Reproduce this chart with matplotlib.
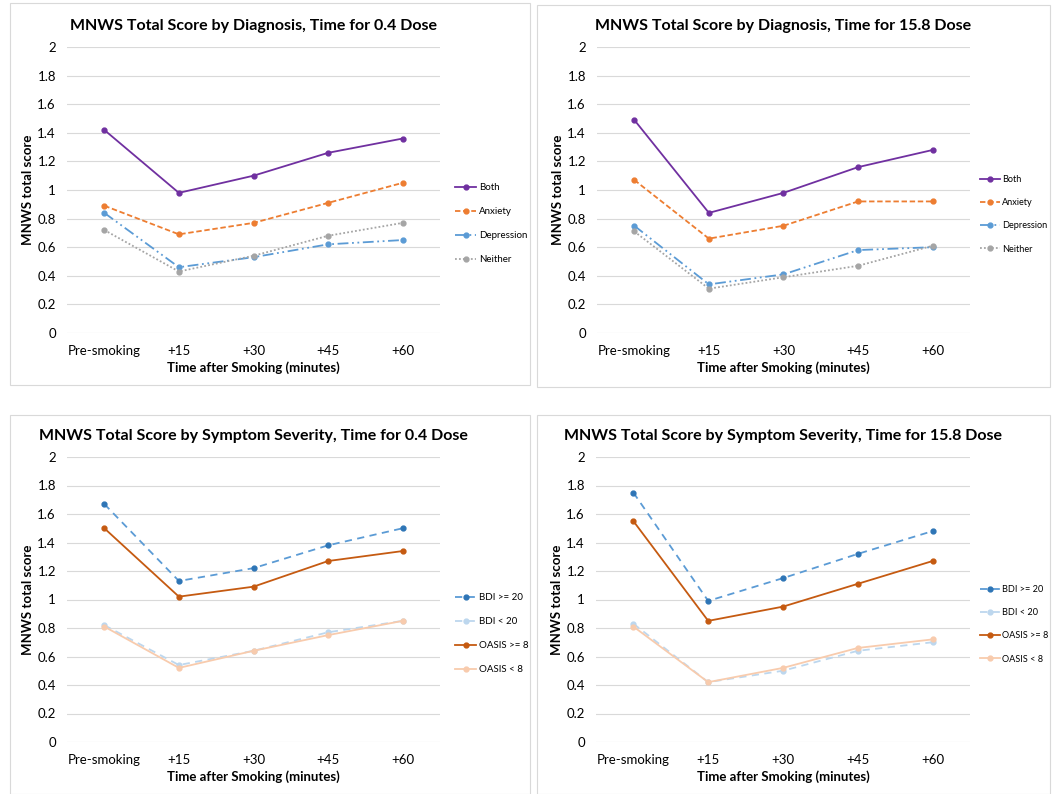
import matplotlib
matplotlib.use("Agg")
import matplotlib.pyplot as plt
from matplotlib.patches import Rectangle

plt.rcParams['font.family'] = ['Lato', 'DejaVu Sans']

W, H = 1052, 794

times = ["Pre-smoking", "+15", "+30", "+45", "+60"]

# diagnosis, 0.4 dose
both_04 = [1.42, 0.98, 1.10, 1.26, 1.36]
anxiety_04 = [0.89, 0.69, 0.77, 0.91, 1.05]
depression_04 = [0.84, 0.46, 0.53, 0.62, 0.65]
neither_04 = [0.72, 0.43, 0.54, 0.68, 0.77]

# diagnosis, 15.8 dose
both_158 = [1.49, 0.84, 0.98, 1.16, 1.28]
anxiety_158 = [1.07, 0.66, 0.75, 0.92, 0.92]
depression_158 = [0.75, 0.34, 0.41, 0.58, 0.60]
neither_158 = [0.71, 0.31, 0.39, 0.47, 0.61]

# symptom severity, 0.4 dose
bdi_hi_04 = [1.67, 1.13, 1.22, 1.38, 1.50]
bdi_lo_04 = [0.82, 0.54, 0.64, 0.77, 0.85]
oasis_hi_04 = [1.50, 1.02, 1.09, 1.27, 1.34]
oasis_lo_04 = [0.81, 0.52, 0.64, 0.75, 0.85]

# symptom severity, 15.8 dose
bdi_hi_158 = [1.75, 0.99, 1.15, 1.32, 1.48]
bdi_lo_158 = [0.83, 0.42, 0.50, 0.64, 0.70]
oasis_hi_158 = [1.55, 0.85, 0.95, 1.11, 1.27]
oasis_lo_158 = [0.81, 0.42, 0.52, 0.66, 0.72]

diag_labels = ["Both", "Anxiety", "Depression", "Neither"]
sev_labels = ["BDI >= 20", "BDI < 20", "OASIS >= 8", "OASIS < 8"]

diag_styles = [
    dict(color="#7030A0", ls="-", mfc="#7030A0"),
    dict(color="#ED7D31", ls=(0, (3, 1.5)), mfc="#ED7D31"),
    dict(color="#5B9BD5", ls=(0, (6, 2, 1, 2, 1, 2)), mfc="#5B9BD5"),
    dict(color="#A5A5A5", ls=(0, (1, 1.2)), mfc="#A5A5A5"),
]
sev_styles = [
    dict(color="#5B9BD5", ls=(0, (4, 3)), mfc="#2E75B6"),
    dict(color="#BDD7EE", ls=(0, (4, 3)), mfc="#BDD7EE"),
    dict(color="#C55A11", ls="-", mfc="#C55A11"),
    dict(color="#F8CBAD", ls="-", mfc="#F8CBAD"),
]

fig = plt.figure(figsize=(W / 100, H / 100), dpi=100)


def px_axes(left, top, right, bottom):
    return fig.add_axes([left / W, 1 - bottom / H, (right - left) / W, (bottom - top) / H])


def panel_box(left, top, right, bottom):
    fig.patches.append(Rectangle((left / W, 1 - bottom / H), (right - left) / W, (bottom - top) / H,
                                 transform=fig.transFigure, fill=False, ec="#D9D9D9", lw=0.8))


def draw(box, area, title, series, labels, styles, leg_xy, leg_fs):
    panel_box(*box)
    ax = px_axes(*area)
    x = range(len(times))
    for vals, lab, st in zip(series, labels, styles):
        ax.plot(x, vals, color=st["color"], ls=st["ls"], lw=1.3, marker="o", ms=3.5,
                mfc=st["mfc"], mec=st["mfc"], label=lab)
    ax.set_xlim(-0.5, 4.5)
    ax.set_ylim(0, 2)
    ax.set_yticks([i / 5 for i in range(11)])
    ax.set_yticklabels(["0", "0.2", "0.4", "0.6", "0.8", "1", "1.2", "1.4", "1.6", "1.8", "2"])
    ax.set_xticks(list(x))
    ax.set_xticklabels(times)
    ax.grid(axis="y", color="#D9D9D9", lw=0.8)
    ax.set_axisbelow(True)
    for s in ax.spines.values():
        s.set_visible(False)
    ax.tick_params(axis="y", length=0, labelsize=9.5, pad=8)
    ax.tick_params(axis="x", length=0, labelsize=9.5, pad=9)
    ax.set_title(title, fontsize=11.5, fontweight="bold", pad=12)
    ax.set_xlabel("Time after Smoking (minutes)", fontsize=9.5, fontweight="bold", labelpad=3)
    ax.set_ylabel("MNWS total score", fontsize=9.5, fontweight="bold", labelpad=2)
    ax.legend(loc="upper left", bbox_to_anchor=(leg_xy[0] / W, 1 - leg_xy[1] / H),
              bbox_transform=fig.transFigure, frameon=False, fontsize=leg_fs,
              handlelength=2.2, labelspacing=1.55, handletextpad=0.25, borderpad=0, borderaxespad=0)


draw((10, 3, 530, 385), (67, 47, 440, 333), "MNWS Total Score by Diagnosis, Time for 0.4 Dose",
     [both_04, anxiety_04, depression_04, neither_04], diag_labels, diag_styles, (455, 183), 7)
draw((537, 5, 1050, 387), (597, 47, 970, 333), "MNWS Total Score by Diagnosis, Time for 15.8 Dose",
     [both_158, anxiety_158, depression_158, neither_158], diag_labels, diag_styles, (980, 175), 6.6)
draw((10, 415, 530, 794), (67, 457, 440, 742), "MNWS Total Score by Symptom Severity, Time for 0.4 Dose",
     [bdi_hi_04, bdi_lo_04, oasis_hi_04, oasis_lo_04], sev_labels, sev_styles, (455, 593), 7)
draw((537, 415, 1050, 794), (596, 457, 970, 742), "MNWS Total Score by Symptom Severity, Time for 15.8 Dose",
     [bdi_hi_158, bdi_lo_158, oasis_hi_158, oasis_lo_158], sev_labels, sev_styles, (980, 585), 6.6)

fig.savefig("out.png", dpi=100)
